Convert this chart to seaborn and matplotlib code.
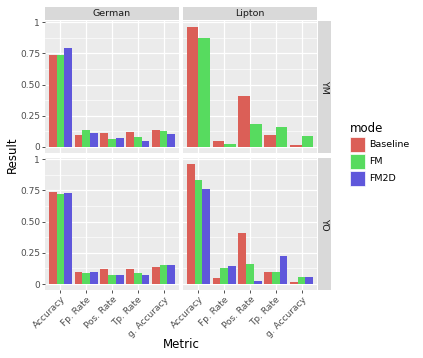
import numpy as np
import pandas as pd
import matplotlib
matplotlib.use("Agg")
import matplotlib.pyplot as plt
import seaborn as sns

# data
metrics = ["Accuracy", "Fp. Rate", "Pos. Rate", "Tp. Rate", "g. Accuracy"]
modes = ["Baseline", "FM", "FM2D"]
datasets = ["German", "Lipton"]
groups = ["YM", "YO"]

german_ym = {"Baseline": [0.739, 0.094, 0.116, 0.121, 0.134],
             "FM":       [0.739, 0.137, 0.065, 0.078, 0.132],
             "FM2D":     [0.793, 0.116, 0.073, 0.051, 0.105]}
lipton_ym = {"Baseline": [0.960, 0.046, 0.409, 0.094, 0.013],
             "FM":       [0.871, 0.027, 0.183, 0.159, 0.089]}
german_yo = {"Baseline": [0.740, 0.097, 0.118, 0.123, 0.139],
             "FM":       [0.721, 0.091, 0.072, 0.091, 0.155],
             "FM2D":     [0.729, 0.094, 0.072, 0.075, 0.155]}
lipton_yo = {"Baseline": [0.962, 0.048, 0.410, 0.097, 0.016],
             "FM":       [0.831, 0.126, 0.161, 0.097, 0.059],
             "FM2D":     [0.761, 0.147, 0.024, 0.225, 0.059]}

tables = {("German", "YM"): german_ym, ("Lipton", "YM"): lipton_ym,
          ("German", "YO"): german_yo, ("Lipton", "YO"): lipton_yo}

rows = []
for (ds, grp), tab in tables.items():
    for mode, vals in tab.items():
        for m, v in zip(metrics, vals):
            rows.append({"dataset": ds, "group": grp, "mode": mode,
                         "Metric": m, "Result": v})
df = pd.DataFrame(rows)

palette = dict(zip(modes, sns.hls_palette(3, h=0.01, l=0.6, s=0.65)))

W, H = 423, 358
fig = plt.figure(figsize=(W / 100, H / 100), dpi=100)


def rect(x0, y0, x1, y1):
    return [x0 / W, 1 - y1 / H, (x1 - x0) / W, (y1 - y0) / H]


col_x = [(45, 179), (183, 317)]
row_y = [(21, 153), (158, 290)]
ymax = df["Result"].max()
ylim = (-0.05 * ymax, ymax * 1.05)
txt = "#4D4D4D"

for r, grp in enumerate(groups):
    for c, ds in enumerate(datasets):
        ax = fig.add_axes(rect(col_x[c][0], row_y[r][0], col_x[c][1], row_y[r][1]))
        ax.set_facecolor("#EBEBEB")
        sub = df[(df["dataset"] == ds) & (df["group"] == grp)]
        present = [m for m in modes if m in set(sub["mode"])]
        sns.barplot(data=sub, x="Metric", y="Result", hue="mode",
                    hue_order=present, order=metrics, palette=palette,
                    width=0.9, saturation=1, linewidth=0, legend=False, ax=ax)
        ax.set_xlim(-0.6, len(metrics) - 0.4)
        ax.set_ylim(*ylim)
        ax.set_yticks([0, 0.25, 0.5, 0.75, 1])
        ax.set_yticks([0.125, 0.375, 0.625, 0.875], minor=True)
        ax.grid(True, which="major", color="white", linewidth=0.9)
        ax.grid(True, which="minor", axis="y", color="white", linewidth=0.45)
        ax.set_axisbelow(True)
        for s in ax.spines.values():
            s.set_visible(False)
        ax.set_xlabel("")
        ax.set_ylabel("")
        ax.tick_params(which="major", length=2, width=0.6, color="#333333",
                       labelsize=6.5, labelcolor=txt, pad=1.5)
        ax.tick_params(which="minor", length=0)
        if c == 0:
            ax.set_yticklabels(["0", "0.25", "0.50", "0.75", "1"])
        else:
            ax.set_yticklabels([])
            ax.tick_params(axis="y", length=0)
        if r == 1:
            ax.set_xticks(range(len(metrics)))
            ax.set_xticklabels(metrics, rotation=45, ha="right",
                               rotation_mode="anchor")
        else:
            ax.set_xticklabels([])
            ax.tick_params(axis="x", length=0)

        if r == 0:
            sx = fig.add_axes(rect(col_x[c][0], 7, col_x[c][1], 20))
            sx.set_facecolor("#D9D9D9")
            sx.set_xticks([]); sx.set_yticks([])
            for s in sx.spines.values():
                s.set_visible(False)
            sx.text(0.5, 0.5, ds, ha="center", va="center", fontsize=6.8,
                    color="#1A1A1A", transform=sx.transAxes)
        if c == 1:
            sy = fig.add_axes(rect(318, row_y[r][0], 331, row_y[r][1]))
            sy.set_facecolor("#D9D9D9")
            sy.set_xticks([]); sy.set_yticks([])
            for s in sy.spines.values():
                s.set_visible(False)
            sy.text(0.5, 0.5, grp, ha="center", va="center", fontsize=6.8,
                    rotation=-90, color="#1A1A1A", transform=sy.transAxes)

fig.text(12 / W, 1 - 155 / H, "Result", rotation=90, ha="center",
         va="center", fontsize=8.5)
fig.text(181 / W, 1 - 344 / H, "Metric", ha="center", va="center",
         fontsize=8.5)

# legend
fig.text(350 / W, 1 - 129 / H, "mode", ha="left", va="center", fontsize=8.5)
for i, m in enumerate(modes):
    y0 = 137 + i * 17
    fig.patches.append(plt.Rectangle((350 / W, 1 - (y0 + 15) / H), 15 / W,
                                     15 / H, transform=fig.transFigure,
                                     facecolor=palette[m], edgecolor="white",
                                     linewidth=0.5))
    fig.text(369 / W, 1 - (y0 + 7.5) / H, m, ha="left", va="center",
             fontsize=6.8)

fig.savefig("out.png", dpi=100)
